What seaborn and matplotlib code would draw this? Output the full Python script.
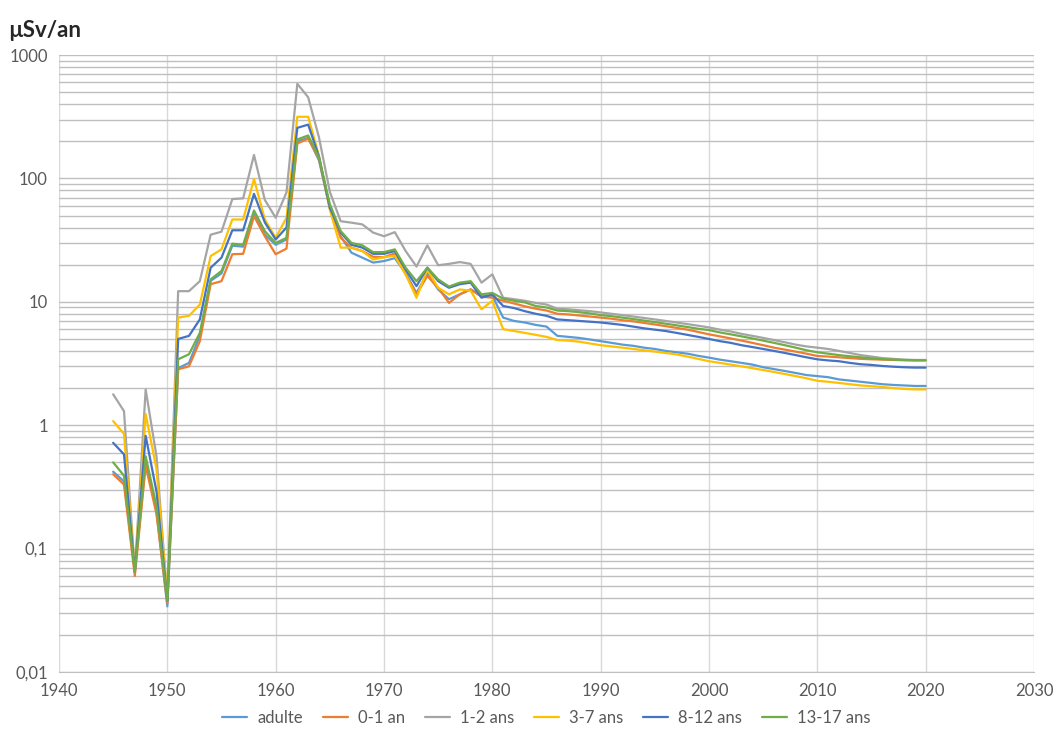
import numpy as np
import pandas as pd
import matplotlib
matplotlib.use("Agg")
import matplotlib.pyplot as plt
import matplotlib.ticker as mticker
import seaborn as sns

years = list(range(1945, 2021))

adulte = [0.42, 0.35, 0.065, 0.5, 0.2, 0.034, 2.9, 3.2, 5.3, 14.8, 17, 28.5, 28, 51, 35, 29, 32, 200, 213, 140,
          57, 34, 25, 22.8, 20.8, 21.4, 22.6, 17, 11.8, 17, 12.6, 10.5, 11.5, 12.6, 11.2, 11.2, 7.45, 7.0, 6.8, 6.5,
          6.3, 5.3, 5.2, 5.1, 4.95, 4.8, 4.65, 4.5, 4.4, 4.25, 4.15, 4.0, 3.9, 3.8, 3.65, 3.53, 3.4, 3.3, 3.2, 3.1,
          2.95, 2.85, 2.75, 2.65, 2.55, 2.5, 2.45, 2.35, 2.3, 2.25, 2.2, 2.15, 2.12, 2.1, 2.08, 2.08]

an_0_1 = [0.40, 0.33, 0.06, 0.47, 0.19, 0.036, 2.84, 3.0, 4.8, 13.9, 14.7, 24.3, 24.5, 49.5, 34, 24.3, 27, 192, 210, 145,
          58, 33, 27.5, 25.8, 23.2, 23, 24.7, 16.7, 11.5, 16.2, 13, 9.8, 11.5, 12.6, 11, 10.8, 10.2, 9.7, 9.2, 8.8,
          8.5, 8.0, 7.9, 7.75, 7.6, 7.45, 7.3, 7.1, 6.95, 6.75, 6.55, 6.35, 6.15, 5.95, 5.7, 5.45, 5.25, 5.05, 4.85, 4.65,
          4.45, 4.25, 4.1, 3.95, 3.8, 3.64, 3.6, 3.55, 3.5, 3.45, 3.42, 3.4, 3.38, 3.36, 3.35, 3.35]

ans_1_2 = [1.78, 1.3, 0.065, 1.95, 0.56, 0.039, 12.2, 12.2, 14.7, 35, 37, 68, 69, 155, 67, 48, 77, 585, 455, 215,
           78, 45, 43.8, 42.4, 36.4, 34, 36.7, 25.8, 19.3, 28.7, 19.8, 20.3, 21, 20.3, 14.3, 16.7, 10.8, 10.5, 10.2, 9.8,
           9.5, 8.8, 8.7, 8.55, 8.4, 8.2, 8.0, 7.8, 7.6, 7.4, 7.2, 7.0, 6.8, 6.6, 6.4, 6.2, 5.95, 5.75, 5.5, 5.3,
           5.1, 4.9, 4.7, 4.5, 4.35, 4.25, 4.15, 4.0, 3.85, 3.7, 3.6, 3.5, 3.45, 3.4, 3.38, 3.38]

ans_3_7 = [1.08, 0.85, 0.065, 1.23, 0.44, 0.04, 7.45, 7.7, 9.5, 23.5, 26.6, 46.5, 46.5, 99, 46.5, 33, 48, 316, 316, 152,
           56, 27.5, 27.5, 25.8, 22, 23, 23.6, 16.7, 10.8, 18.2, 13, 11.5, 12.6, 12.3, 8.7, 10.2, 6.0, 5.8, 5.6, 5.4,
           5.2, 4.9, 4.85, 4.75, 4.6, 4.45, 4.35, 4.25, 4.15, 4.05, 3.95, 3.85, 3.75, 3.6, 3.45, 3.3, 3.2, 3.1, 3.0, 2.9,
           2.8, 2.7, 2.6, 2.5, 2.4, 2.29, 2.25, 2.2, 2.15, 2.1, 2.07, 2.04, 2.0, 1.97, 1.95, 1.95]

ans_8_12 = [0.72, 0.58, 0.065, 0.82, 0.29, 0.038, 5.0, 5.3, 7.2, 18.9, 22.8, 38, 38, 75, 44, 32, 40, 257, 273, 150,
            58, 36.5, 29, 27.5, 24.5, 24.5, 25.8, 18.2, 13.4, 18.9, 14.7, 13, 13.9, 14.3, 10.8, 11.5, 9.25, 8.9, 8.4, 8.0,
            7.7, 7.2, 7.1, 7.0, 6.9, 6.8, 6.65, 6.5, 6.3, 6.1, 5.95, 5.8, 5.6, 5.4, 5.2, 5.0, 4.8, 4.65, 4.45, 4.3,
            4.15, 4.0, 3.85, 3.7, 3.55, 3.42, 3.35, 3.3, 3.2, 3.12, 3.08, 3.02, 2.98, 2.95, 2.93, 2.93]

ans_13_17 = [0.50, 0.39, 0.065, 0.56, 0.22, 0.038, 3.42, 3.76, 5.6, 15.2, 17.8, 29.6, 29, 55, 37.4, 30, 33, 207, 223, 148,
             62, 37.5, 30, 28.7, 25.3, 25.3, 26.6, 18.9, 14.7, 18.9, 15.2, 13.3, 14.3, 14.7, 11.5, 11.8, 10.6, 10.2, 9.9, 9.25,
             9.0, 8.5, 8.4, 8.25, 8.05, 7.8, 7.65, 7.45, 7.25, 7.05, 6.85, 6.65, 6.45, 6.25, 6.05, 5.9, 5.65, 5.45, 5.25, 5.05,
             4.85, 4.65, 4.45, 4.25, 4.05, 3.9, 3.8, 3.7, 3.62, 3.55, 3.48, 3.43, 3.4, 3.38, 3.36, 3.36]

groups = ["adulte", "0-1 an", "1-2 ans", "3-7 ans", "8-12 ans", "13-17 ans"]
series = [adulte, an_0_1, ans_1_2, ans_3_7, ans_8_12, ans_13_17]
colors = ["#5B9BD5", "#ED7D31", "#A5A5A5", "#FFC000", "#4472C4", "#70AD47"]

y_ticks = [0.01, 0.1, 1, 10, 100, 1000]
y_labels = ["0,01", "0,1", "1", "10", "100", "1000"]

# long format table for seaborn
df = pd.concat([pd.DataFrame({"annee": years, "dose": vals, "groupe": g})
                for g, vals in zip(groups, series)], ignore_index=True)

sns.set_style("white")
plt.rcParams["font.family"] = ["Lato", "DejaVu Sans"]

fig = plt.figure(figsize=(10.63, 7.34), dpi=100)
ax = fig.add_axes([0.0555, 0.0845, 0.9172, 0.8405])

sns.lineplot(data=df, x="annee", y="dose", hue="groupe", hue_order=groups,
             palette=colors, linewidth=1.6, ax=ax, legend=True)

ax.set_yscale("log")
ax.set_ylim(0.01, 1000)
ax.set_xlim(1940, 2030)
ax.set_xticks(range(1940, 2031, 10))
ax.set_yticks(y_ticks)
ax.set_yticklabels(y_labels)
ax.yaxis.set_minor_locator(mticker.LogLocator(base=10, subs=np.arange(2, 10)))
ax.yaxis.set_minor_formatter(mticker.NullFormatter())

# Excel-like gridlines
ax.grid(True, which="major", axis="x", color="#D9D9D9", linewidth=1)
ax.grid(True, which="both", axis="y", color="#BFBFBF", linewidth=1)
ax.set_axisbelow(True)

for side in ["top", "right", "left"]:
    ax.spines[side].set_visible(False)
ax.spines["bottom"].set_color("#BFBFBF")

ax.tick_params(axis="both", which="both", length=0, labelsize=12, labelcolor="#595959", pad=8)
ax.set_xlabel("")
ax.set_ylabel("")

fig.text(0.008, 0.958, "µSv/an", fontsize=16, fontweight="bold", color="#262626", ha="left", va="center")

handles, labels = ax.get_legend_handles_labels()
ax.legend(handles, labels, loc="center", bbox_to_anchor=(0.5, -0.075), ncol=6, frameon=False,
          fontsize=12, labelcolor="#595959", handlelength=1.5, columnspacing=1.2, handletextpad=0.6)

fig.savefig("out.png", dpi=100)
